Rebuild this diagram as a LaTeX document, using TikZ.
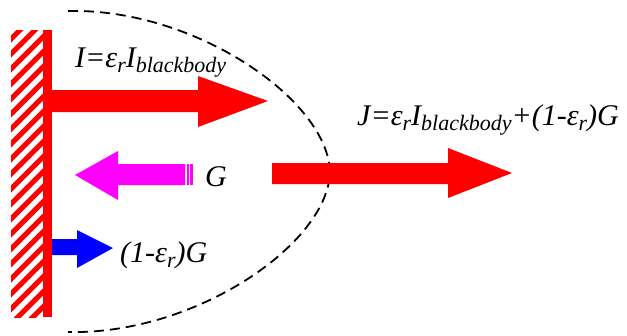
\documentclass[tikz,border=0pt]{standalone}
\usepackage{fontspec}
\setmainfont{Liberation Serif}
\newcommand{\SUB}[1]{\raisebox{-5pt}{\fontsize{22}{22}\selectfont #1}}
\definecolor{gcol}{RGB}{255,0,255}
\definecolor{rcol}{RGB}{255,0,0}
\definecolor{bcol}{RGB}{0,0,255}
\tikzset{
  lbl/.style={anchor=base west,inner sep=0pt,font=\itshape\fontsize{30}{34}\selectfont},
}

\begin{document}
\begin{tikzpicture}[x=1pt,y=-1pt]
    \useasboundingbox (0,0) rectangle (627,335);

    % wall
    \begin{scope}
      \clip (11,30) rectangle (43,317);
      \foreach \i in {0,...,24} {
          \draw[rcol,line width=5pt] (5,30+15*\i) -- +(45,-45);
      }
    \end{scope}
    \fill[rcol] (43,30) rectangle (52,317);

    % control surface
    \draw[line width=1.8pt,dash pattern=on 10pt off 6pt]
        (68,11) .. controls (195,8) and (328,100) .. (330,172)
                .. controls (328,244) and (195,335) .. (68,332);

    % emitted
    \fill[rcol] (52,90) -- (198,90) -- (198,76) -- (268,101) -- (198,127)
        -- (198,112) -- (52,112) -- cycle;
    \node[lbl] (emit) at (75,67) {I=ε\SUB{r}I\SUB{blackbody}};

    % irradiation
    \fill[gcol] (185,164) -- (118,164) -- (118,151) -- (75,175) -- (118,200)
        -- (118,185) -- (185,185) -- cycle;
    \fill[gcol] (187,164) rectangle (189,185);
    \fill[gcol] (190,164) rectangle (193,185);
    \node[lbl] (irr) at (205,186) {G};

    % reflected
    \fill[bcol] (52,239) -- (77,239) -- (77,230) -- (113,248) -- (77,268)
        -- (77,255) -- (52,255) -- cycle;
    \node[lbl] (refl) at (120,262) {(1-ε\SUB{r})G};

    % radiosity
    \fill[rcol] (272,163) -- (448,163) -- (448,148) -- (512,173) -- (448,198)
        -- (448,184) -- (272,184) -- cycle;
    \node[lbl] (rad) at (357,125) {J=ε\SUB{r}I\SUB{blackbody}+(1-ε\SUB{r})G};
\end{tikzpicture}
\end{document}
